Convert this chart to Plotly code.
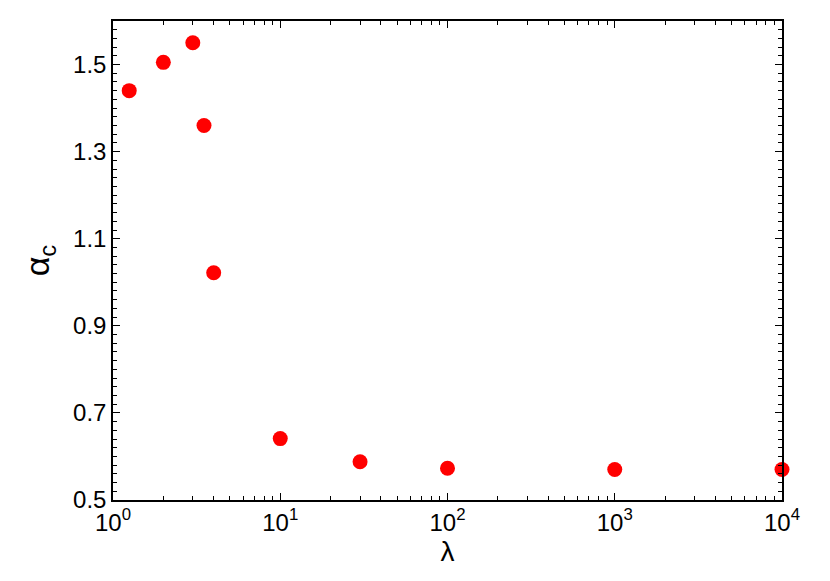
import plotly.graph_objects as go

lam = [1.25, 2, 3, 3.5, 4, 10, 30, 100, 1000, 10000]
alpha_c = [1.44, 1.505, 1.55, 1.36, 1.022, 0.641, 0.588, 0.573, 0.570, 0.570]

x_tickvals = [1, 10, 100, 1000, 10000]
x_ticktext = ["10<sup>0</sup>", "10<sup>1</sup>", "10<sup>2</sup>", "10<sup>3</sup>", "10<sup>4</sup>"]
x_minorvals = [m * d for d in [1, 10, 100, 1000] for m in range(2, 10)]
y_tickvals = [0.5, 0.7, 0.9, 1.1, 1.3, 1.5]

fig = go.Figure()
fig.add_trace(go.Scatter(
    x=lam, y=alpha_c, mode="markers",
    marker=dict(color="#ff0000", size=15),
    cliponaxis=False,
))

# page body adds an 8px offset, margins compensate for it
fig.update_layout(
    width=830, height=581,
    margin=dict(l=105, r=56, t=11, b=89),
    paper_bgcolor="white", plot_bgcolor="white",
    font=dict(family="Liberation Sans, Arial", size=24, color="black"),
    showlegend=False,
)
fig.update_xaxes(
    type="log", range=[0, 4],
    tickvals=x_tickvals, ticktext=x_ticktext,
    ticks="inside", ticklen=7, tickwidth=1.2, tickcolor="black",
    showline=True, linecolor="black", linewidth=1.5, mirror="ticks",
    showgrid=False, zeroline=False,
    minor=dict(tickvals=x_minorvals, ticks="inside", ticklen=4, tickcolor="black", showgrid=False),
    title=dict(text="λ", font=dict(size=28), standoff=7),
)
fig.update_yaxes(
    range=[0.5, 1.6],
    tickvals=y_tickvals, tickformat=".1f",
    ticks="inside", ticklen=7, tickwidth=1.2, tickcolor="black",
    showline=True, linecolor="black", linewidth=1.5, mirror="ticks",
    showgrid=False, zeroline=False,
    minor=dict(dtick=0.02, ticks="inside", ticklen=4, tickcolor="black", showgrid=False),
    title=dict(text="α<sub>c</sub>", font=dict(size=34), standoff=13),
)

fig.write_html("out.html")
